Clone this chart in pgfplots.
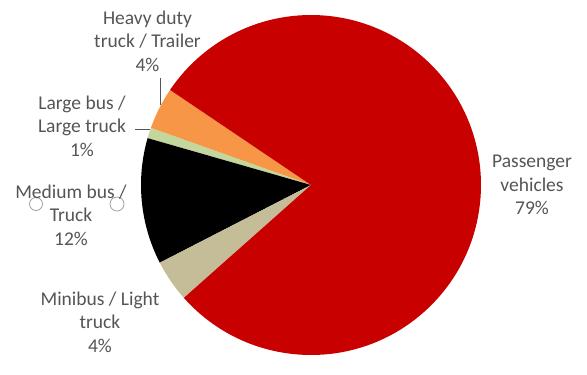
\documentclass[border=0pt]{standalone}
\usepackage{pgfplots}
\usepackage{pgfplotstable}
\pgfplotsset{compat=1.18}
\usepackage{fontspec}
\setmainfont{Carlito}
\definecolor{pass}{HTML}{C80000}
\definecolor{heavy}{HTML}{F79646}
\definecolor{large}{HTML}{C3D69B}
\definecolor{medium}{HTML}{000000}
\definecolor{mini}{HTML}{C4BD97}
\definecolor{txt}{HTML}{555555}

\pgfplotstableread{
label value
Heavy 4
Large 1
Medium 12
Minibus 4
Passenger 79
}\piedata

\begin{document}
\begin{tikzpicture}
\pgfmathsetmacro\angA{146}
\pgfplotstablegetelem{0}{value}\of\piedata
\pgfmathsetmacro\angB{\angA+3.6*\pgfplotsretval}
\pgfplotstablegetelem{1}{value}\of\piedata
\pgfmathsetmacro\angC{\angB+3.6*\pgfplotsretval}
\pgfplotstablegetelem{2}{value}\of\piedata
\pgfmathsetmacro\angD{\angC+3.6*\pgfplotsretval}
\pgfplotstablegetelem{3}{value}\of\piedata
\pgfmathsetmacro\angE{\angD+3.6*\pgfplotsretval}
\pgfplotstablegetelem{4}{value}\of\piedata
\pgfmathsetmacro\angF{\angE+3.6*\pgfplotsretval}
\begin{axis}[x=1pt, y=1pt, xmin=0, xmax=587, ymin=0, ymax=362,
  hide axis, scale only axis, clip=false]
\path (axis cs:0,0) rectangle (axis cs:587,362);
\fill[heavy] (axis cs:311,177) -- ++(\angA:170pt) arc[start angle=\angA, end angle=\angB, radius=170pt] -- cycle;
\fill[large] (axis cs:311,177) -- ++(\angB:170pt) arc[start angle=\angB, end angle=\angC, radius=170pt] -- cycle;
\fill[medium] (axis cs:311,177) -- ++(\angC:170pt) arc[start angle=\angC, end angle=\angD, radius=170pt] -- cycle;
\fill[mini] (axis cs:311,177) -- ++(\angD:170pt) arc[start angle=\angD, end angle=\angE, radius=170pt] -- cycle;
\fill[pass] (axis cs:311,177) -- ++(\angE:170pt) arc[start angle=\angE, end angle=\angF, radius=170pt] -- cycle;
\draw[txt, line width=0.8pt] (axis cs:160,284) -- (axis cs:160,257);
\draw[txt, line width=0.8pt] (axis cs:135,233) -- (axis cs:150,233);
\draw[gray!80, line width=0.7pt] (axis cs:36,158) circle[radius=6.5];
\draw[gray!80, line width=0.7pt] (axis cs:117,158) circle[radius=7];
\begin{scope}[every node/.style={text=txt, align=center, font=\fontsize{19.5}{23.5}\selectfont, inner sep=0pt}]
\node at (axis cs:147.5,321) {Heavy duty\\truck / Trailer\\4\%};
\node at (axis cs:82,236) {Large bus /\\Large truck\\1\%};
\node at (axis cs:71,147) {Medium bus /\\Truck\\12\%};
\node at (axis cs:100,40) {Minibus / Light\\truck\\4\%};
\node at (axis cs:532,177) {Passenger\\vehicles\\79\%};
\end{scope}
\end{axis}
\end{tikzpicture}
\end{document}
